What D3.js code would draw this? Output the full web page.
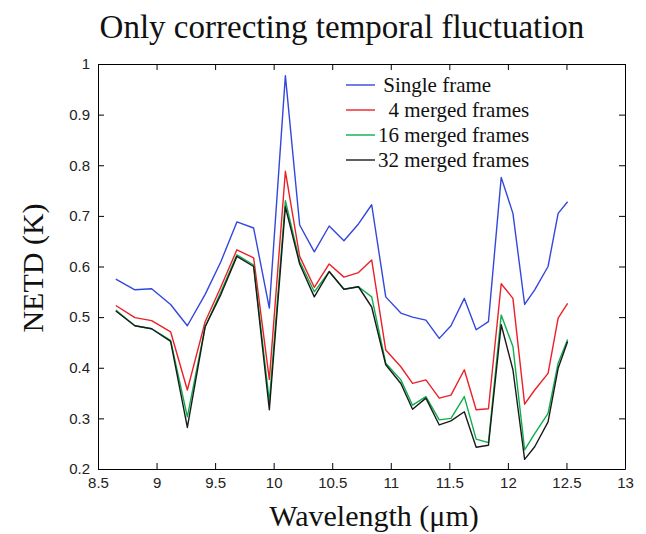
<!DOCTYPE html>
<html>
<head>
<meta charset="utf-8">
<script src="https://cdn.jsdelivr.net/npm/d3@7"></script>
<style>
    body { margin: 0; background: #fff; }
    svg { display: block; }
</style>
</head>
<body>
<div id="chart"></div>
<script>
const wavelength = [8.652, 8.815, 8.958, 9.12, 9.263, 9.415, 9.55, 9.686, 9.829, 9.963, 10.1, 10.222, 10.347, 10.474, 10.6, 10.724, 10.837, 10.957, 11.086, 11.186, 11.3, 11.414, 11.514, 11.628, 11.729, 11.834, 11.943, 12.043, 12.143, 12.229, 12.343, 12.429, 12.51]

const singleFrame = [0.575, 0.554, 0.556, 0.525, 0.483, 0.545, 0.61, 0.688, 0.676, 0.518, 0.977, 0.682, 0.629, 0.68, 0.651, 0.684, 0.722, 0.54, 0.508, 0.5, 0.494, 0.458, 0.483, 0.537, 0.475, 0.491, 0.776, 0.705, 0.525, 0.554, 0.6, 0.705, 0.728]
const merged4 = [0.523, 0.499, 0.493, 0.471, 0.356, 0.491, 0.56, 0.633, 0.617, 0.377, 0.788, 0.62, 0.559, 0.605, 0.579, 0.588, 0.613, 0.435, 0.402, 0.369, 0.376, 0.34, 0.346, 0.396, 0.317, 0.319, 0.566, 0.537, 0.328, 0.356, 0.389, 0.498, 0.527]
const merged16 = [0.514, 0.483, 0.477, 0.454, 0.303, 0.481, 0.55, 0.623, 0.603, 0.333, 0.73, 0.61, 0.55, 0.59, 0.555, 0.56, 0.54, 0.409, 0.376, 0.326, 0.343, 0.297, 0.3, 0.343, 0.259, 0.252, 0.504, 0.442, 0.238, 0.27, 0.31, 0.409, 0.456]
const merged32 = [0.512, 0.483, 0.477, 0.452, 0.282, 0.481, 0.545, 0.62, 0.6, 0.317, 0.718, 0.605, 0.54, 0.59, 0.555, 0.56, 0.52, 0.406, 0.369, 0.318, 0.34, 0.287, 0.295, 0.313, 0.243, 0.247, 0.485, 0.396, 0.219, 0.244, 0.293, 0.399, 0.452]

const seriesNames = [" Single frame", "  4 merged frames", "16 merged frames", "32 merged frames"]
const seriesValues = [singleFrame, merged4, merged16, merged32]
const seriesColors = ["#3347dc", "#ec2027", "#0ead4c", "#1a1a1a"]

const xTicks = [8.5, 9, 9.5, 10, 10.5, 11, 11.5, 12, 12.5, 13]
const yTicks = [0.2, 0.3, 0.4, 0.5, 0.6, 0.7, 0.8, 0.9, 1]

const width = 646
const height = 534
const margin = { top: 64, right: 21, bottom: 65, left: 98 }
const innerW = width - margin.left - margin.right
const innerH = height - margin.top - margin.bottom

const svg = d3.select("#chart").append("svg")
    .attr("width", width)
    .attr("height", height)

const xScale = d3.scaleLinear()
    .domain([8.5, 13])
    .range([margin.left, margin.left + innerW])
const yScale = d3.scaleLinear()
    .domain([0.2, 1])
    .range([margin.top + innerH, margin.top])

const fmt = d3.format("~g")
const tickFont = "'Liberation Sans', Arial, sans-serif"
const serif = "'Liberation Serif', 'Times New Roman', serif"

// axes, matlab style: ticks inside on all four sides
function styleAxis(g) {
    g.select(".domain").attr("stroke", "#000").attr("stroke-width", 1)
    g.selectAll(".tick line").attr("stroke", "#000")
    g.selectAll(".tick text")
        .attr("fill", "#222")
        .style("font-family", tickFont)
        .style("font-size", "15px")
}

svg.append("g")
    .attr("transform", "translate(0," + (margin.top + innerH) + ")")
    .call(d3.axisBottom(xScale).tickValues(xTicks).tickFormat(fmt).tickSize(-6).tickSizeOuter(0).tickPadding(8))
    .call(styleAxis)
svg.append("g")
    .attr("transform", "translate(0," + margin.top + ")")
    .call(d3.axisTop(xScale).tickValues(xTicks).tickFormat("").tickSize(-6).tickSizeOuter(0))
    .call(styleAxis)
svg.append("g")
    .attr("transform", "translate(" + margin.left + ",0)")
    .call(d3.axisLeft(yScale).tickValues(yTicks).tickFormat(fmt).tickSize(-6).tickSizeOuter(0).tickPadding(8))
    .call(styleAxis)
svg.append("g")
    .attr("transform", "translate(" + (margin.left + innerW) + ",0)")
    .call(d3.axisRight(yScale).tickValues(yTicks).tickFormat("").tickSize(-6).tickSizeOuter(0))
    .call(styleAxis)

const line = d3.line()
    .x((d, i) => xScale(wavelength[i]))
    .y(d => yScale(d))

svg.append("g").selectAll("path")
    .data(seriesValues)
    .enter()
    .append("path")
    .attr("d", line)
    .attr("fill", "none")
    .attr("stroke", (d, i) => seriesColors[i])
    .attr("stroke-width", 1.4)
    .attr("stroke-linejoin", "round")

// legend
const legend = svg.append("g")
    .attr("transform", "translate(346,85)")
const item = legend.selectAll("g")
    .data(seriesNames)
    .enter()
    .append("g")
    .attr("transform", (d, i) => "translate(0," + i * 25 + ")")
item.append("line")
    .attr("x1", 0).attr("x2", 29)
    .attr("stroke", (d, i) => seriesColors[i])
    .attr("stroke-width", 1.4)
item.append("text")
    .attr("x", 32)
    .attr("y", 7)
    .attr("xml:space", "preserve")
    .style("white-space", "pre")
    .style("font-family", serif)
    .style("font-size", "21px")
    .attr("fill", "#111")
    .text(d => d)

// titles
svg.append("text")
    .attr("x", 342)
    .attr("y", 38)
    .attr("text-anchor", "middle")
    .style("font-family", serif)
    .style("font-size", "33px")
    .attr("fill", "#111")
    .text("Only correcting temporal fluctuation")

svg.append("text")
    .attr("x", 374)
    .attr("y", 526)
    .attr("text-anchor", "middle")
    .style("font-family", serif)
    .style("font-size", "30px")
    .attr("fill", "#111")
    .text("Wavelength (\u03bcm)")

svg.append("text")
    .attr("transform", "translate(43,268) rotate(-90)")
    .attr("text-anchor", "middle")
    .style("font-family", serif)
    .style("font-size", "30px")
    .attr("fill", "#111")
    .text("NETD (K)")
</script>
</body>
</html>
